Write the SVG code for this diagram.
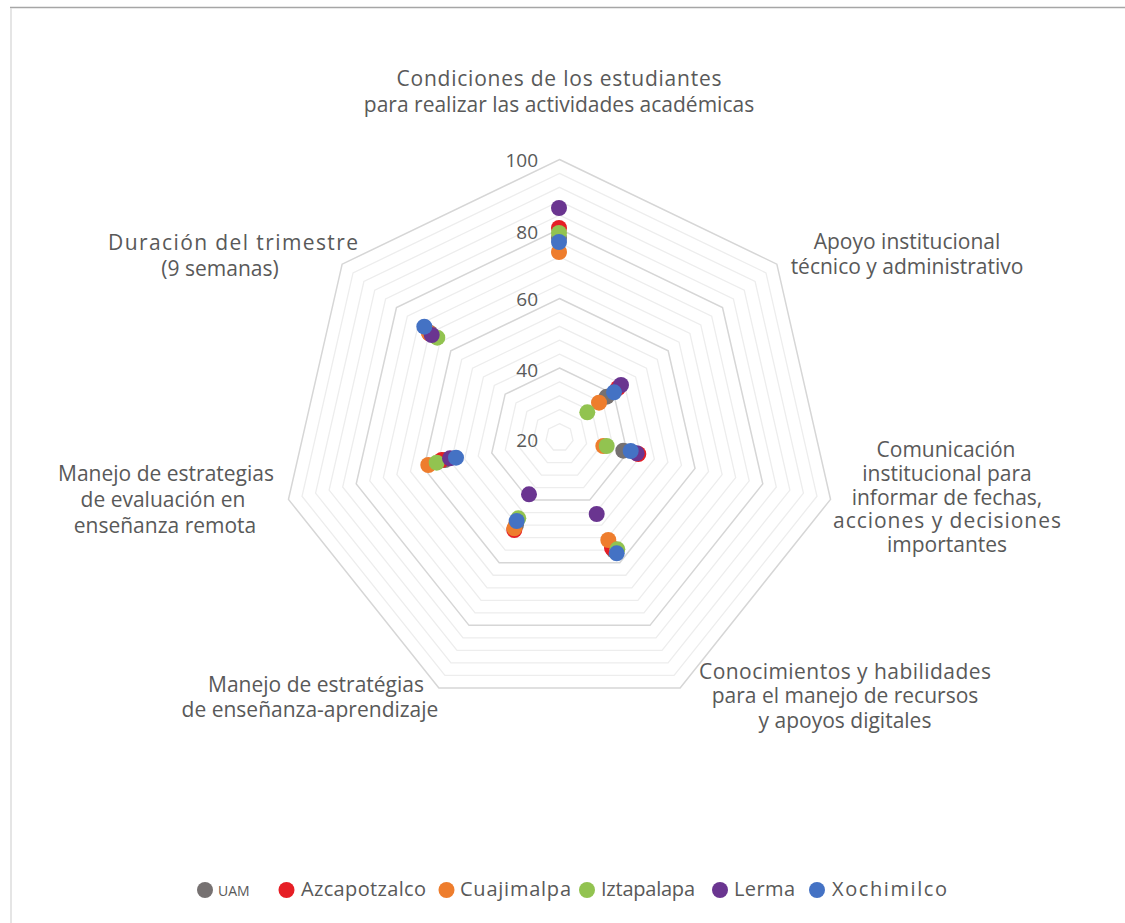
<svg xmlns="http://www.w3.org/2000/svg" width="1125" height="923" viewBox="0 0 1125 923">
<style>
.lbl{font-family:"Open Sans","Liberation Sans",sans-serif;font-size:21px;fill:#595959;text-anchor:middle}
.ax{font-family:"Open Sans","Liberation Sans",sans-serif;font-size:19px;fill:#595959;text-anchor:end}
.lg{font-family:"Open Sans","Liberation Sans",sans-serif;font-size:20px;fill:#595959}
.lgs{font-family:"Open Sans","Liberation Sans",sans-serif;font-size:14px;fill:#595959}
.minor{fill:none;stroke:#EDEDED;stroke-width:1.3;vector-effect:non-scaling-stroke}
.major{fill:none;stroke:#D6D6D6;stroke-width:1.5;vector-effect:non-scaling-stroke}
.uam{fill:#767171}.azc{fill:#E61E25}.cua{fill:#EE7D2D}.izt{fill:#92C350}.ler{fill:#6A3590}.xoc{fill:#4472C4}
</style>
<rect x="0" y="0" width="1125" height="923" fill="#FFFFFF"/>
<line x1="10" y1="7.5" x2="1125" y2="7.5" stroke="#A6A6A6" stroke-width="1.5"/>
<line x1="11" y1="8" x2="11" y2="923" stroke="#DCDCDC" stroke-width="1.5"/>
<g id="grid">
<polygon class="minor" transform="translate(559.5 437.5) scale(13.9)" points="0,-1 0.78183,-0.62349 0.97493,0.22252 0.43388,0.90097 -0.43388,0.90097 -0.97493,0.22252 -0.78183,-0.62349"/>
<polygon class="minor" transform="translate(559.5 437.5) scale(27.8)" points="0,-1 0.78183,-0.62349 0.97493,0.22252 0.43388,0.90097 -0.43388,0.90097 -0.97493,0.22252 -0.78183,-0.62349"/>
<polygon class="minor" transform="translate(559.5 437.5) scale(41.7)" points="0,-1 0.78183,-0.62349 0.97493,0.22252 0.43388,0.90097 -0.43388,0.90097 -0.97493,0.22252 -0.78183,-0.62349"/>
<polygon class="minor" transform="translate(559.5 437.5) scale(55.6)" points="0,-1 0.78183,-0.62349 0.97493,0.22252 0.43388,0.90097 -0.43388,0.90097 -0.97493,0.22252 -0.78183,-0.62349"/>
<polygon class="major" transform="translate(559.5 437.5) scale(69.5)" points="0,-1 0.78183,-0.62349 0.97493,0.22252 0.43388,0.90097 -0.43388,0.90097 -0.97493,0.22252 -0.78183,-0.62349"/>
<polygon class="minor" transform="translate(559.5 437.5) scale(83.4)" points="0,-1 0.78183,-0.62349 0.97493,0.22252 0.43388,0.90097 -0.43388,0.90097 -0.97493,0.22252 -0.78183,-0.62349"/>
<polygon class="minor" transform="translate(559.5 437.5) scale(97.3)" points="0,-1 0.78183,-0.62349 0.97493,0.22252 0.43388,0.90097 -0.43388,0.90097 -0.97493,0.22252 -0.78183,-0.62349"/>
<polygon class="minor" transform="translate(559.5 437.5) scale(111.2)" points="0,-1 0.78183,-0.62349 0.97493,0.22252 0.43388,0.90097 -0.43388,0.90097 -0.97493,0.22252 -0.78183,-0.62349"/>
<polygon class="minor" transform="translate(559.5 437.5) scale(125.1)" points="0,-1 0.78183,-0.62349 0.97493,0.22252 0.43388,0.90097 -0.43388,0.90097 -0.97493,0.22252 -0.78183,-0.62349"/>
<polygon class="major" transform="translate(559.5 437.5) scale(139)" points="0,-1 0.78183,-0.62349 0.97493,0.22252 0.43388,0.90097 -0.43388,0.90097 -0.97493,0.22252 -0.78183,-0.62349"/>
<polygon class="minor" transform="translate(559.5 437.5) scale(152.9)" points="0,-1 0.78183,-0.62349 0.97493,0.22252 0.43388,0.90097 -0.43388,0.90097 -0.97493,0.22252 -0.78183,-0.62349"/>
<polygon class="minor" transform="translate(559.5 437.5) scale(166.8)" points="0,-1 0.78183,-0.62349 0.97493,0.22252 0.43388,0.90097 -0.43388,0.90097 -0.97493,0.22252 -0.78183,-0.62349"/>
<polygon class="minor" transform="translate(559.5 437.5) scale(180.7)" points="0,-1 0.78183,-0.62349 0.97493,0.22252 0.43388,0.90097 -0.43388,0.90097 -0.97493,0.22252 -0.78183,-0.62349"/>
<polygon class="minor" transform="translate(559.5 437.5) scale(194.6)" points="0,-1 0.78183,-0.62349 0.97493,0.22252 0.43388,0.90097 -0.43388,0.90097 -0.97493,0.22252 -0.78183,-0.62349"/>
<polygon class="major" transform="translate(559.5 437.5) scale(208.5)" points="0,-1 0.78183,-0.62349 0.97493,0.22252 0.43388,0.90097 -0.43388,0.90097 -0.97493,0.22252 -0.78183,-0.62349"/>
<polygon class="minor" transform="translate(559.5 437.5) scale(222.4)" points="0,-1 0.78183,-0.62349 0.97493,0.22252 0.43388,0.90097 -0.43388,0.90097 -0.97493,0.22252 -0.78183,-0.62349"/>
<polygon class="minor" transform="translate(559.5 437.5) scale(236.3)" points="0,-1 0.78183,-0.62349 0.97493,0.22252 0.43388,0.90097 -0.43388,0.90097 -0.97493,0.22252 -0.78183,-0.62349"/>
<polygon class="minor" transform="translate(559.5 437.5) scale(250.2)" points="0,-1 0.78183,-0.62349 0.97493,0.22252 0.43388,0.90097 -0.43388,0.90097 -0.97493,0.22252 -0.78183,-0.62349"/>
<polygon class="minor" transform="translate(559.5 437.5) scale(264.1)" points="0,-1 0.78183,-0.62349 0.97493,0.22252 0.43388,0.90097 -0.43388,0.90097 -0.97493,0.22252 -0.78183,-0.62349"/>
<polygon class="major" transform="translate(559.5 437.5) scale(278)" points="0,-1 0.78183,-0.62349 0.97493,0.22252 0.43388,0.90097 -0.43388,0.90097 -0.97493,0.22252 -0.78183,-0.62349"/>
</g>
<g id="axis-labels">
<text class="ax" x="538" y="167">100</text>
<text class="ax" x="538" y="239">80</text>
<text class="ax" x="538" y="306">60</text>
<text class="ax" x="538" y="377">40</text>
<text class="ax" x="538" y="447">20</text>
</g>
<g id="category-labels">
<g id="cat-condiciones"><text class="lbl" x="559" y="86" textLength="325" lengthAdjust="spacing">Condiciones de los estudiantes</text><text class="lbl" x="559" y="112">para realizar las actividades académicas</text></g>
<g id="cat-apoyo"><text class="lbl" x="907" y="249">Apoyo institucional</text><text class="lbl" x="907" y="274">técnico y administrativo</text></g>
<g id="cat-comunicacion"><text class="lbl" x="946" y="457">Comunicación</text><text class="lbl" x="947" y="481">institucional para</text><text class="lbl" x="947" y="505">informar de fechas,</text><text class="lbl" x="947" y="528" textLength="228" lengthAdjust="spacing">acciones y decisiones</text><text class="lbl" x="947" y="552">importantes</text></g>
<g id="cat-conocimientos"><text class="lbl" x="845" y="679" textLength="292" lengthAdjust="spacing">Conocimientos y habilidades</text><text class="lbl" x="845" y="703">para el manejo de recursos</text><text class="lbl" x="845" y="728">y apoyos digitales</text></g>
<g id="cat-ensenanza"><text class="lbl" x="316" y="692">Manejo de estratégias</text><text class="lbl" x="310" y="717">de enseñanza-aprendizaje</text></g>
<g id="cat-evaluacion"><text class="lbl" x="166" y="481">Manejo de estrategias</text><text class="lbl" x="163" y="507">de evaluación en</text><text class="lbl" x="165" y="533">enseñanza remota</text></g>
<g id="cat-duracion"><text class="lbl" x="233" y="250" textLength="250" lengthAdjust="spacing">Duración del trimestre</text><text class="lbl" x="220" y="276">(9 semanas)</text></g>
</g>
<g id="series-uam" class="uam">
<circle cx="559" cy="238" r="8"/><circle cx="606.7" cy="396.7" r="8"/><circle cx="623.3" cy="450.7" r="8"/><circle cx="614" cy="550.7" r="8"/><circle cx="516" cy="525" r="8"/><circle cx="445" cy="460" r="8"/><circle cx="430" cy="333" r="8"/>
</g>
<g id="series-azcapotzalco" class="azc">
<circle cx="559" cy="228" r="8"/><circle cx="618" cy="388" r="8"/><circle cx="638.3" cy="454" r="8"/><circle cx="612" cy="548" r="8"/><circle cx="514.3" cy="530" r="8"/><circle cx="441.7" cy="460" r="8"/><circle cx="429.3" cy="333.3" r="8"/>
</g>
<g id="series-cuajimalpa" class="cua">
<circle cx="559" cy="252" r="8"/><circle cx="599" cy="402.7" r="8"/><circle cx="603.3" cy="446" r="8"/><circle cx="608.3" cy="540" r="8"/><circle cx="514.3" cy="528.3" r="8"/><circle cx="428.3" cy="465" r="8"/><circle cx="429" cy="333" r="8"/>
</g>
<g id="series-iztapalapa" class="izt">
<circle cx="559" cy="233" r="8"/><circle cx="587.3" cy="412.3" r="8"/><circle cx="606.7" cy="446" r="8"/><circle cx="617.3" cy="549.3" r="8"/><circle cx="518.3" cy="518.3" r="8"/><circle cx="436.7" cy="462.7" r="8"/><circle cx="437.3" cy="337.7" r="8"/>
</g>
<g id="series-lerma" class="ler">
<circle cx="559" cy="208" r="8"/><circle cx="621" cy="385" r="8"/><circle cx="636.7" cy="453.3" r="8"/><circle cx="596.7" cy="514" r="8"/><circle cx="529" cy="494.3" r="8"/><circle cx="450" cy="458.3" r="8"/><circle cx="431.7" cy="335" r="8"/>
</g>
<g id="series-xochimilco" class="xoc">
<circle cx="559" cy="242" r="8"/><circle cx="614" cy="392.3" r="8"/><circle cx="630.7" cy="451" r="8"/><circle cx="616.7" cy="553.3" r="8"/><circle cx="516.7" cy="521" r="8"/><circle cx="456" cy="457.7" r="8"/><circle cx="424.3" cy="326.7" r="8"/>
</g>
<g id="legend">
<circle class="uam" cx="205" cy="890" r="8"/><text class="lgs" x="218" y="896">UAM</text>
<circle class="azc" cx="286.5" cy="890" r="8"/><text class="lg" x="301" y="896" textLength="125" lengthAdjust="spacing">Azcapotzalco</text>
<circle class="cua" cx="446.5" cy="890" r="8"/><text class="lg" x="460" y="896" textLength="111" lengthAdjust="spacing">Cuajimalpa</text>
<circle class="izt" cx="587" cy="890" r="8"/><text class="lg" x="601" y="896" textLength="94" lengthAdjust="spacing">Iztapalapa</text>
<circle class="ler" cx="720" cy="890" r="8"/><text class="lg" x="734" y="896" textLength="61" lengthAdjust="spacing">Lerma</text>
<circle class="xoc" cx="817" cy="890" r="8"/><text class="lg" x="832" y="896" textLength="115" lengthAdjust="spacing">Xochimilco</text>
</g>
</svg>
